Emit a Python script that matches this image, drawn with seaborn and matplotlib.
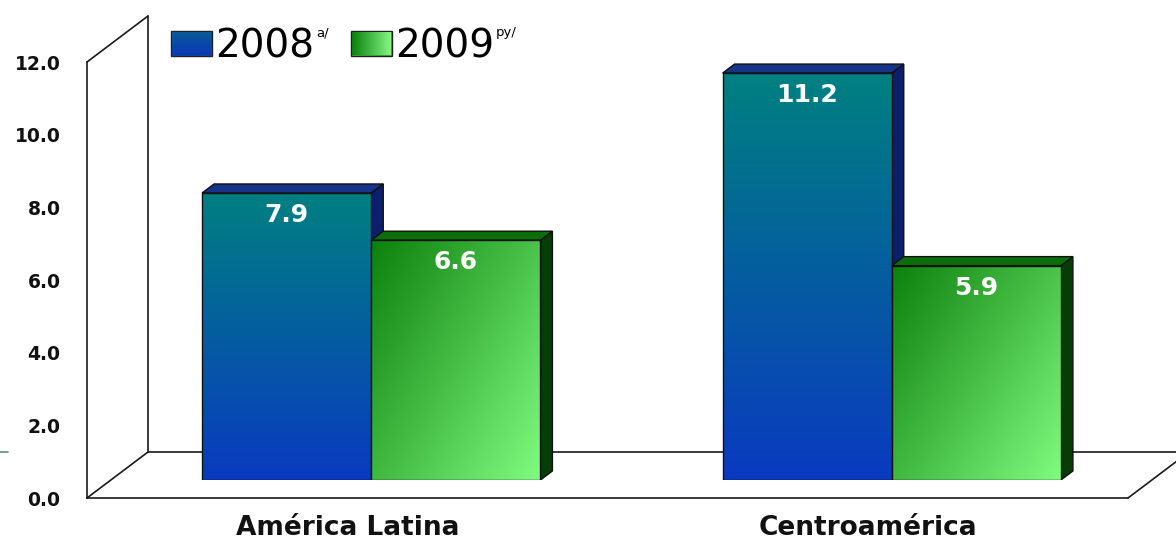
import numpy as np
import pandas as pd
import matplotlib
matplotlib.use("Agg")
import matplotlib.pyplot as plt
import seaborn as sns
from matplotlib.patches import Polygon
from matplotlib.lines import Line2D
from matplotlib.ticker import FormatStrFormatter

# ---- data -------------------------------------------------------------
regions = ["América Latina", "Centroamérica"]
years = ["2008", "2009"]
year_notes = ["a/", "py/"]
values_2008 = [7.9, 11.2]
values_2009 = [6.6, 5.9]
y_ticks = [0, 2, 4, 6, 8, 10, 12]

df = pd.DataFrame({
    "region": regions * 2,
    "year": [years[0]] * len(regions) + [years[1]] * len(regions),
    "value": values_2008 + values_2009,
})

# ---- style ------------------------------------------------------------
sns.set_theme(style="white")
plt.rcParams["font.family"] = ["DejaVu Sans"]

W, H = 1176, 542
fig = plt.figure(figsize=(W / 100, H / 100), dpi=100)
fig.patch.set_facecolor("white")


def px_rect(left, top, right, bottom):
    return [left / W, 1 - bottom / H, (right - left) / W, (bottom - top) / H]


# front plane of the box (axis, ticks, labels) and the plane the bars stand in
FRONT = (87, 62, 1128, 498)
BAR_SHIFT = (24, 18)      # bar plane offset from the front plane, px
BACK_SHIFT = (61, 46)     # back wall offset from the front plane, px
DEPTH = (12, 9)           # visible depth of each bar, px

ax_front = fig.add_axes(px_rect(*FRONT))
ax_bars = fig.add_axes(px_rect(FRONT[0] + BAR_SHIFT[0], FRONT[1] - BAR_SHIFT[1],
                               FRONT[2] + BAR_SHIFT[0], FRONT[3] - BAR_SHIFT[1]))

for ax in (ax_front, ax_bars):
    ax.set_xlim(-0.5, len(regions) - 0.5)
    ax.set_ylim(y_ticks[0], y_ticks[-1])

# ---- bars -------------------------------------------------------------
sns.barplot(df, x="region", y="value", hue="year",
            palette=["#0a4fa8", "#3cb83c"], width=0.65, saturation=1,
            errorbar=None, ax=ax_bars)
ax_bars.set_axis_off()

px_per_x = (FRONT[2] - FRONT[0]) / len(regions)
px_per_y = (FRONT[3] - FRONT[1]) / (y_ticks[-1] - y_ticks[0])
ddx = DEPTH[0] / px_per_x
ddy = DEPTH[1] / px_per_y

face_styles = [
    dict(top="#16348a", side="#0c1f6c",
         c0=np.array([0, 128, 128]) / 255, c1=np.array([10, 58, 192]) / 255,
         mode="vertical"),
    dict(top="#0b6e0b", side="#053d05",
         c0=np.array([12, 128, 12]) / 255, c1=np.array([128, 252, 128]) / 255,
         mode="diagonal"),
]


def gradient(c0, c1, mode, n=200):
    v = np.linspace(0, 1, n)[:, None]          # 0 at top, 1 at bottom
    u = np.linspace(0, 1, n)[None, :]          # 0 at left, 1 at right
    if mode == "vertical":
        t = np.repeat(v, n, axis=1)
    elif mode == "horizontal":
        t = np.repeat(u, n, axis=0)
    else:
        t = 0.55 * u + 0.45 * v
    return c0 + (c1 - c0) * t[..., None]


for h, (container, style) in enumerate(zip(ax_bars.containers, face_styles)):
    base_z = 2 + 2 * h
    for bar in container:
        x, w, top = bar.get_x(), bar.get_width(), bar.get_height()
        # right side face
        ax_bars.add_patch(Polygon(
            [(x + w, 0), (x + w, top), (x + w + ddx, top + ddy), (x + w + ddx, ddy)],
            closed=True, facecolor=style["side"], edgecolor="#111111",
            linewidth=1, zorder=base_z))
        # top face
        ax_bars.add_patch(Polygon(
            [(x, top), (x + ddx, top + ddy), (x + w + ddx, top + ddy), (x + w, top)],
            closed=True, facecolor=style["top"], edgecolor="#111111",
            linewidth=1, zorder=base_z))
        # shaded front face
        im = ax_bars.imshow(gradient(style["c0"], style["c1"], style["mode"]),
                            extent=[x, x + w, 0, top], aspect="auto",
                            interpolation="bilinear", origin="upper",
                            zorder=base_z + 1)
        im.set_clip_path(bar)
        bar.set_facecolor("none")
        bar.set_edgecolor("#111111")
        bar.set_linewidth(1)
        bar.set_zorder(base_z + 1.5)
        # value label inside the top of the bar
        ax_bars.annotate(f"{top:.1f}", xy=(x + w / 2, top), xytext=(0, -16),
                         textcoords="offset points", ha="center", va="center",
                         color="white", fontsize=18, fontweight="bold",
                         zorder=base_z + 1.6)

ax_bars.set_xlim(-0.5, len(regions) - 0.5)
ax_bars.set_ylim(y_ticks[0], y_ticks[-1])

# ---- front plane: axis, walls, labels ---------------------------------
ax_front.set_facecolor("none")
for side in ("top", "right"):
    ax_front.spines[side].set_visible(False)
for side in ("left", "bottom"):
    ax_front.spines[side].set_color("#1a1a1a")
    ax_front.spines[side].set_linewidth(1.2)

ax_front.set_yticks(y_ticks)
ax_front.yaxis.set_major_formatter(FormatStrFormatter("%.1f"))
ax_front.set_xticks(range(len(regions)))
ax_front.set_xticklabels(regions)
ax_front.tick_params(axis="y", length=0, pad=19, labelsize=13.5)
ax_front.tick_params(axis="x", length=0, pad=12, labelsize=19)
for lab in ax_front.get_yticklabels() + ax_front.get_xticklabels():
    lab.set_fontweight("bold")
    lab.set_color("#111111")
ax_front.set_xlabel("")
ax_front.set_ylabel("")

bx = BACK_SHIFT[0] / (FRONT[2] - FRONT[0])
by = BACK_SHIFT[1] / (FRONT[3] - FRONT[1])
right_edge = (W - FRONT[0]) / (FRONT[2] - FRONT[0])
wall = dict(color="#1a1a1a", linewidth=1.2, transform=ax_front.transAxes,
            clip_on=False, zorder=0.5)
ax_front.add_line(Line2D([0, bx], [1, 1 + by], **wall))            # top-left edge
ax_front.add_line(Line2D([bx, bx], [1 + by, by], **wall))          # back wall edge
ax_front.add_line(Line2D([0, bx], [0, by], **wall))                # floor, left edge
ax_front.add_line(Line2D([bx, right_edge + 0.01], [by, by], **wall))  # floor, back edge
ax_front.add_line(Line2D([1, 1 + bx], [0, by], **wall))            # floor, right edge

fig.add_artist(Line2D([0, 8 / W], [1 - 452 / H] * 2, color="#5d8f80",
                      linewidth=1.2))

# ---- legend -----------------------------------------------------------
old = ax_bars.get_legend()
handles = list(old.legend_handles)
labels = [t.get_text() for t in old.get_texts()]
old.remove()
leg = ax_bars.legend(handles, labels, loc="upper left",
                     bbox_to_anchor=(171 / W, 1 - 27 / H),
                     bbox_transform=fig.transFigure, ncol=2, frameon=False,
                     fontsize=28, handlelength=1.05, handleheight=0.6,
                     handletextpad=0.08, columnspacing=0.95, borderpad=0,
                     borderaxespad=0)
for p in leg.get_patches():
    p.set_edgecolor("#222222")
    p.set_linewidth(1)
for t in leg.get_texts():
    t.set_color("black")

fig.canvas.draw()
renderer = fig.canvas.get_renderer()

# shaded legend swatches
swatch_styles = [
    (np.array([10, 90, 150]) / 255, np.array([10, 55, 185]) / 255, "vertical"),
    (np.array([12, 128, 12]) / 255, np.array([130, 245, 130]) / 255, "horizontal"),
]
for p, (c0, c1, mode) in zip(leg.get_patches(), swatch_styles):
    bb = p.get_window_extent(renderer)
    sw = fig.add_axes([(bb.x0 + 1) / W, (bb.y0 + 1) / H,
                       (bb.width - 2) / W, (bb.height - 2) / H])
    sw.imshow(gradient(c0, c1, mode, n=50), aspect="auto",
              interpolation="bilinear")
    sw.set_axis_off()

for txt, note in zip(leg.get_texts(), year_notes):
    bb = txt.get_window_extent(renderer)
    fig.text((bb.x1 + 2) / W, (bb.y1 + 1) / H, note, ha="left", va="top",
             fontsize=9.5, color="black")

fig.savefig("out.png", dpi=100, facecolor="white")
